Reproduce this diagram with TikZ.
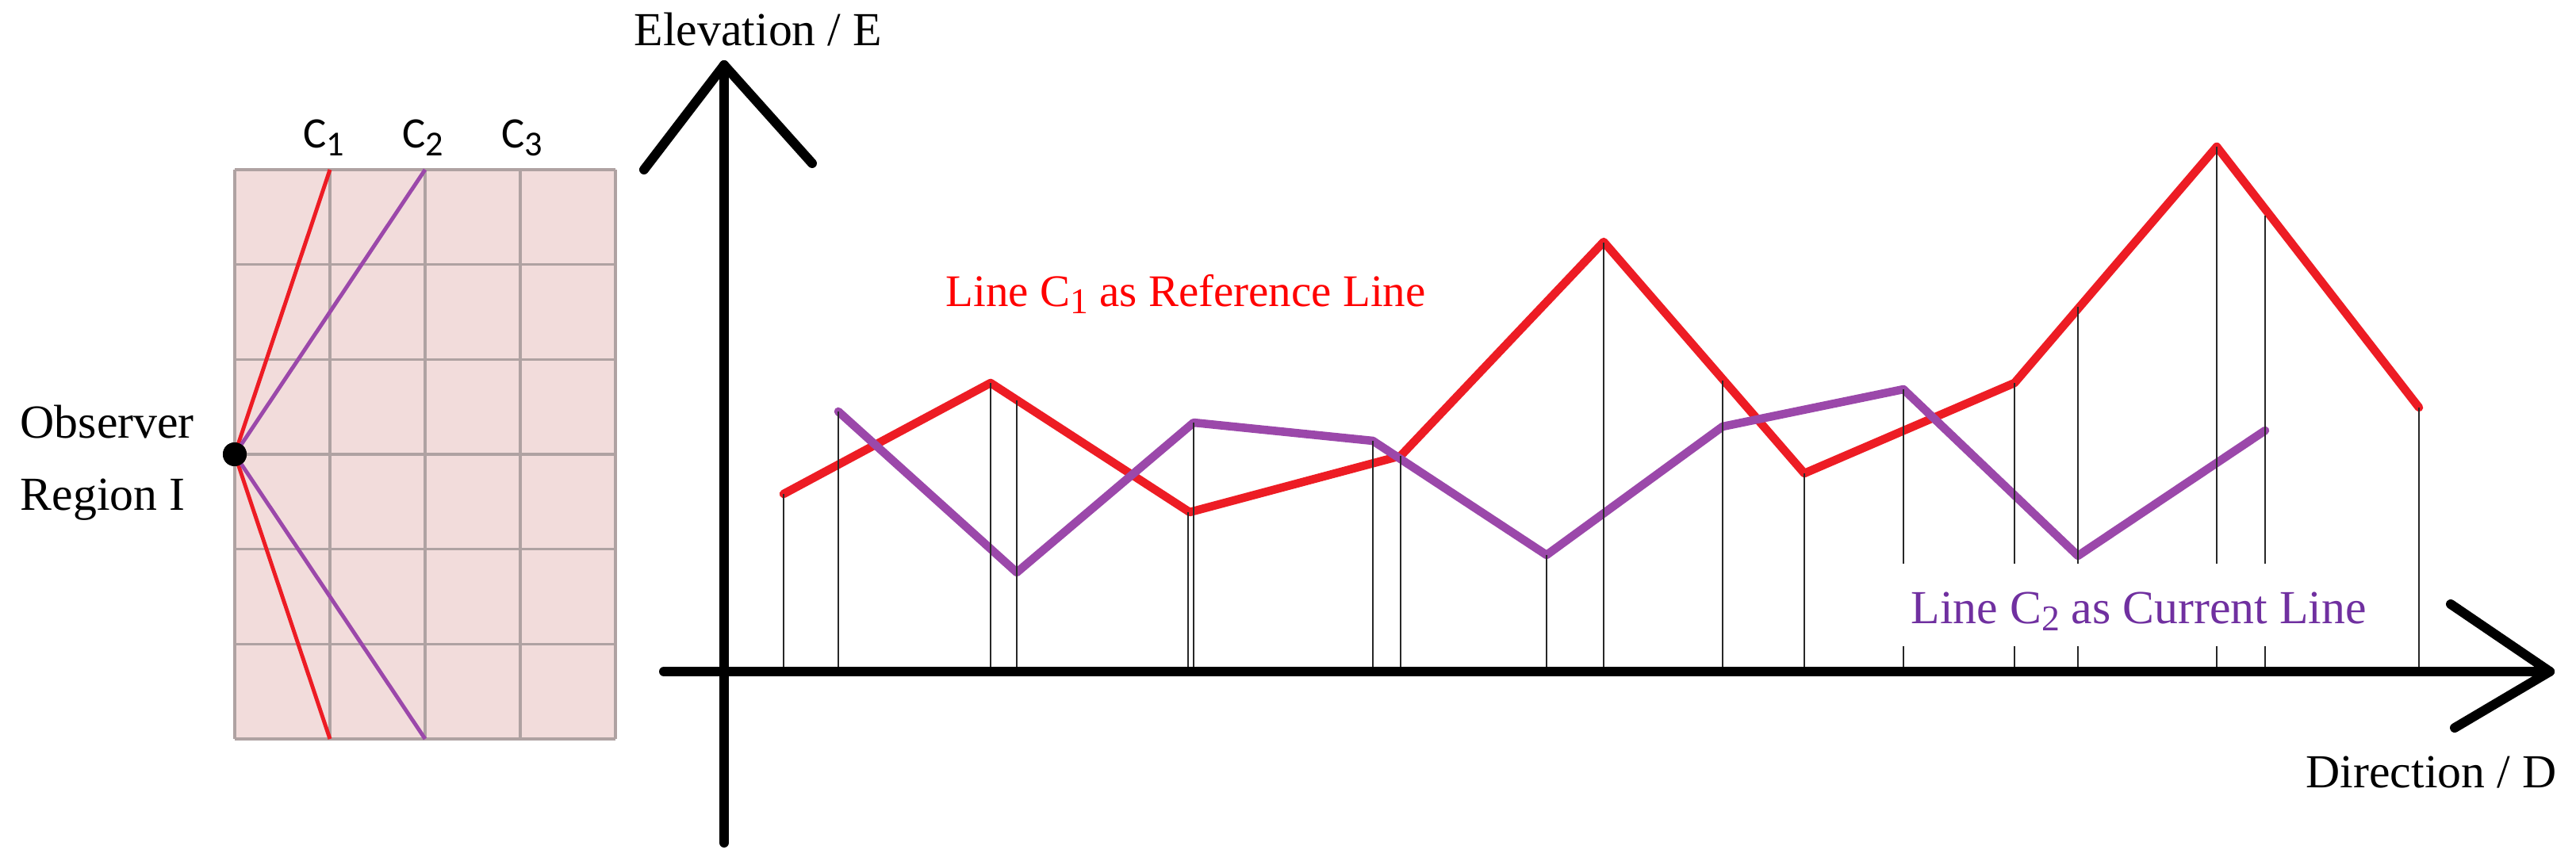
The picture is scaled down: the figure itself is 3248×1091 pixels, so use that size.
\documentclass[tikz,border=0pt]{standalone}
\usepackage{fontspec}
\setmainfont{Liberation Serif}
\newfontfamily\carlito{Carlito}
\newcommand\lowsub[1]{\raisebox{-2.6pt}{\fontsize{13pt}{13pt}\selectfont #1}}
\newcommand\csub[1]{\raisebox{-3pt}{\fontsize{12.6pt}{13pt}\selectfont #1}}
\definecolor{gridfill}{RGB}{242,220,219}
\definecolor{gridline}{RGB}{175,162,162}
\definecolor{lred}{RGB}{237,28,36}
\definecolor{lpurple}{RGB}{155,72,170}
\definecolor{tpurple}{RGB}{112,48,160}
\definecolor{tred}{RGB}{255,0,0}
\definecolor{vgray}{RGB}{40,40,40}
\begin{document}
\begin{tikzpicture}[x=0.01cm,y=-0.01cm,
  axis/.style={line width=3.4pt, line cap=round, line join=round},
  gridl/.style={draw=gridline, line width=0.9pt},
  fanred/.style={draw=lred, line width=1.4pt},
  fanpur/.style={draw=lpurple, line width=1.4pt},
  redline/.style={draw=lred, line width=3pt, line join=round, line cap=round},
  purline/.style={draw=lpurple, line width=3pt, line join=round, line cap=round},
  vline/.style={draw=vgray, line width=0.7pt},
  lbl/.style={inner sep=0pt, anchor=base west, font=\fontsize{17pt}{20pt}\selectfont},
  clbl/.style={inner sep=0pt, anchor=base west, font=\carlito\fontsize{15.6pt}{17pt}\selectfont}]
\useasboundingbox (0,0) rectangle (3248,1091);

% ---------- left panel ----------
\fill[gridfill] (296,214) rectangle (776,932);
\foreach \i in {0,...,4} \draw[gridl] (296+\i*120,214) -- (296+\i*120,932);
\foreach \i in {0,...,6} \draw[gridl] (296,214+\i*119.67) -- (776,214+\i*119.67);

\coordinate (c1t) at (416,214);
\coordinate (c1b) at (416,932);
\coordinate (c2t) at (536,214);
\coordinate (c2b) at (536,932);
\node[circle, fill=black, inner sep=0pt, minimum size=0.3cm] (obs) at (296,573) {};
\draw[fanred] (obs.center) -- (c1t);
\draw[fanred] (obs.center) -- (c1b);
\draw[fanpur] (obs.center) -- (c2t);
\draw[fanpur] (obs.center) -- (c2b);
\node[circle, fill=black, inner sep=0pt, minimum size=0.3cm] (obsdot) at (296,573) {};

\node[clbl] (lc1) at (382,186) {C\csub{1}};
\node[clbl] (lc2) at (507,186) {C\csub{2}};
\node[clbl] (lc3) at (632,186) {C\csub{3}};

\node[lbl] (obsl) at (25,552) {Observer};
\node[lbl] (regl) at (25,643) {Region I};

% ---------- chart ----------
\coordinate (org) at (913,847);
\coordinate (xs) at (837,847);
\coordinate (xe) at (3215,847);
\coordinate (xu) at (3090,762);
\coordinate (xd) at (3095,918);
\coordinate (ys) at (913,1063);
\coordinate (ye) at (913,82);
\coordinate (yl) at (812,214);
\coordinate (yr) at (1024,206);

% red (reference) and purple (current) lines
\draw[redline] (988,623) -- (1249,483) -- (1500,646) -- (1766,575) -- (2022,305)
  -- (2275,597) -- (2540,483) -- (2795,185) -- (3050,514);
\draw[purline] (1057,519) -- (1282,722) -- (1505,533) -- (1731,556) -- (1950,700)
  -- (2172,538) -- (2400,491) -- (2620,701) -- (2856,543);

% vertical drop lines
\foreach \x/\t in {988/623, 1057/519, 1249/483, 1282/505, 1498/646, 1505/533,
  1731/556, 1766/575, 1950/700, 2022/306, 2172/480, 2275/597, 2400/491,
  2540/483, 2620/387, 2795/185, 2856/272, 3050/514}
  \draw[vline] (\x,\t) -- (\x,847);

% axes
\draw[axis] (xs) -- (xe);
\draw[axis] (xu) -- (xe) -- (xd);
\draw[axis] (ys) -- (ye);
\draw[axis] (yl) -- (ye) -- (yr);

% labels
\node[lbl] (elev) at (799,58) {Elevation / E};
\node[lbl] (dirl) at (2907,993) {Direction / D};
\node[lbl, text=tred, font=\fontsize{16.2pt}{19pt}\selectfont] (refl) at (1192,386) {Line C\lowsub{1} as Reference Line};
\node[fill=white, inner sep=0pt, minimum width=6.15cm, minimum height=1.04cm] (gapbox) at (2692,763) {};
\node[lbl, text=tpurple] (curl) at (2409,786) {Line C\lowsub{2} as Current Line};
\end{tikzpicture}
\end{document}
